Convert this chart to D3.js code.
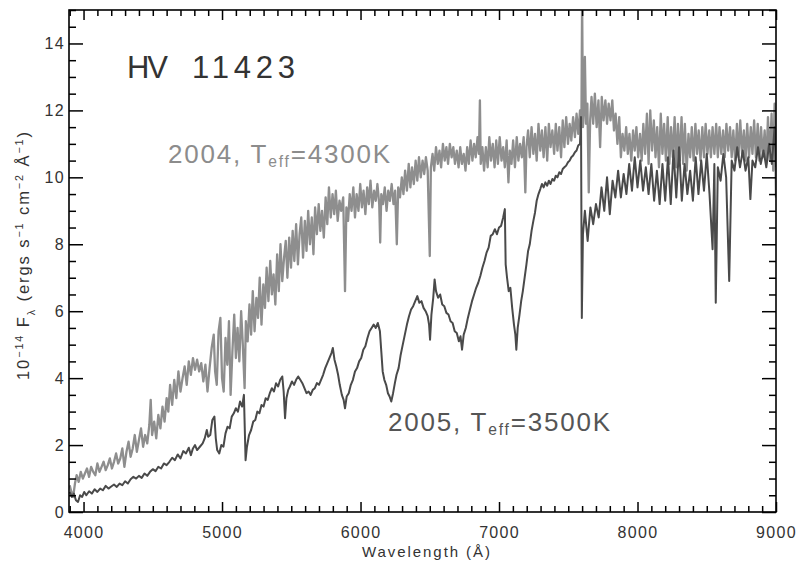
<!DOCTYPE html>
<html>
<head>
<meta charset="utf-8">
<script src="https://cdn.jsdelivr.net/npm/d3@7"></script>
<style>
  html, body { margin: 0; padding: 0; background: #fff; }
  svg { display: block; font-family: "Liberation Sans", Arial, Helvetica, sans-serif; }
</style>
</head>
<body>
<svg id="chart" width="798" height="565"></svg>
<script>
// ---- Data (wavelength in Å, flux in 1e-14 ergs s^-1 cm^-2 Å^-1) ----
const spec2004 = [
[3900,0.8],[3912,0.6],[3925,0.45],[3938,0.85],[3950,1.1],[3965,0.9],[3980,1.2],[3995,1.0],[4010,1.15],[4025,1.3],
[4040,1.05],[4055,1.35],[4070,1.2],[4085,1.1],[4100,1.45],[4115,1.2],[4130,1.35],[4145,1.5],[4160,1.25],[4175,1.4],
[4190,1.6],[4205,1.3],[4220,1.5],[4235,1.75],[4250,1.45],[4265,1.6],[4280,1.9],[4295,1.35],[4310,1.8],[4325,2.1],
[4340,1.65],[4355,1.9],[4370,2.3],[4385,1.8],[4400,2.15],[4415,2.5],[4430,1.95],[4445,2.3],[4460,2.05],[4475,2.6],
[4485,3.35],[4495,2.3],[4510,2.7],[4525,2.2],[4540,2.9],[4555,2.5],[4570,3.15],[4585,2.7],[4600,3.4],[4612,3.0],
[4625,3.8],[4640,3.2],[4655,3.95],[4670,3.4],[4685,4.2],[4700,3.6],[4715,4.0],[4730,4.35],[4745,3.8],[4760,4.5],
[4775,4.1],[4790,4.6],[4805,4.25],[4820,4.55],[4835,4.2],[4850,4.45],[4865,3.9],[4880,4.4],[4895,3.6],[4910,4.3],
[4925,4.9],[4940,5.3],[4950,4.2],[4962,3.8],[4975,5.4],[4988,5.8],[5000,4.0],[5012,3.6],[5025,5.2],[5038,4.4],
[5050,5.7],[5062,3.5],[5075,4.8],[5088,5.9],[5100,4.6],[5112,5.5],[5125,4.5],[5138,6.0],[5150,5.0],[5163,3.7],
[5172,5.7],[5185,5.1],[5198,6.2],[5210,5.3],[5222,6.6],[5235,5.4],[5248,6.4],[5260,5.8],[5272,7.0],[5285,5.6],
[5298,6.8],[5310,6.1],[5322,7.3],[5335,6.3],[5348,7.5],[5360,6.5],[5372,7.1],[5385,6.2],[5398,7.7],[5410,6.6],
[5422,8.0],[5435,6.9],[5448,7.6],[5460,8.1],[5472,7.0],[5485,8.2],[5498,7.3],[5510,8.4],[5522,7.5],[5535,8.6],
[5548,7.4],[5560,8.3],[5572,8.8],[5585,7.6],[5598,8.7],[5610,7.8],[5622,9.0],[5635,8.0],[5648,8.8],[5660,7.7],
[5672,9.1],[5685,8.3],[5698,9.2],[5710,8.4],[5722,9.0],[5735,8.2],[5748,9.4],[5760,8.6],[5772,9.7],[5785,8.8],
[5798,9.5],[5810,8.9],[5822,9.6],[5835,8.7],[5848,9.3],[5860,9.0],[5875,9.4],[5888,6.6],[5898,9.1],[5910,8.7],
[5922,9.5],[5935,9.0],[5948,9.7],[5960,8.8],[5972,9.5],[5985,9.0],[5998,9.8],[6010,9.1],[6022,9.6],[6035,8.9],
[6048,9.7],[6060,9.2],[6072,9.9],[6085,9.1],[6098,9.6],[6110,9.3],[6122,9.8],[6135,9.2],[6142,8.05],[6150,9.5],
[6162,9.2],[6175,9.7],[6188,9.0],[6200,9.6],[6212,9.3],[6225,9.8],[6238,9.2],[6250,9.6],[6262,8.0],[6272,9.7],
[6285,9.4],[6298,10.0],[6310,9.5],[6322,10.2],[6335,9.6],[6348,10.4],[6360,9.7],[6372,10.3],[6385,9.8],[6398,10.5],
[6410,9.9],[6422,10.6],[6435,10.0],[6448,10.5],[6460,10.1],[6472,10.6],[6485,10.2],[6500,7.65],[6508,10.3],[6520,10.7],
[6532,10.2],[6545,10.9],[6558,10.4],[6570,10.8],[6582,10.3],[6595,11.0],[6608,10.5],[6620,10.9],[6632,10.4],[6645,11.0],
[6658,10.6],[6670,10.9],[6682,10.4],[6695,10.8],[6708,10.3],[6720,10.9],[6732,10.4],[6745,10.7],[6758,10.2],[6770,10.9],
[6782,10.4],[6795,11.1],[6808,10.5],[6820,11.0],[6832,10.6],[6845,11.2],[6855,10.7],[6862,12.3],[6868,10.4],[6880,10.9],
[6892,10.2],[6905,10.9],[6918,10.3],[6930,11.2],[6942,10.5],[6955,11.0],[6968,10.3],[6980,11.1],[6992,10.4],[7005,11.2],
[7018,10.5],[7030,10.9],[7042,10.3],[7055,11.1],[7068,9.85],[7078,10.8],[7090,10.4],[7102,11.1],[7115,10.3],[7128,11.2],
[7140,10.5],[7152,11.0],[7165,10.6],[7178,11.2],[7190,9.55],[7198,10.9],[7210,11.4],[7222,10.6],[7235,11.5],[7248,10.7],
[7260,11.3],[7272,10.5],[7285,11.6],[7298,10.8],[7310,11.4],[7322,10.6],[7335,11.5],[7348,10.5],[7360,11.6],[7372,10.9],
[7385,11.4],[7398,10.7],[7410,11.6],[7422,10.8],[7435,11.5],[7448,10.6],[7460,11.7],[7472,10.9],[7485,11.8],[7498,11.0],
[7510,11.6],[7522,11.1],[7535,11.8],[7548,11.2],[7560,11.9],[7572,11.3],[7585,12.0],[7595,11.6],[7600,15.4],[7606,11.5],
[7612,12.0],[7620,13.6],[7628,11.6],[7638,12.2],[7648,9.55],[7658,11.7],[7668,12.4],[7680,11.6],[7692,12.5],[7705,11.5],
[7718,12.3],[7730,10.9],[7742,12.4],[7755,11.7],[7768,12.3],[7780,11.6],[7792,12.2],[7805,11.7],[7818,12.3],[7830,11.4],
[7842,11.9],[7855,11.0],[7868,11.8],[7880,10.6],[7892,11.3],[7905,10.8],[7918,11.5],[7930,10.7],[7942,11.3],[7955,10.5],
[7968,11.4],[7980,10.8],[7992,11.5],[8005,10.6],[8018,11.3],[8030,10.5],[8042,11.6],[8055,10.7],[8068,11.9],[8080,10.4],
[8092,12.0],[8105,10.8],[8118,11.7],[8130,10.6],[8142,11.5],[8155,10.3],[8168,11.9],[8180,10.7],[8192,11.6],[8205,10.5],
[8218,11.8],[8230,10.4],[8242,11.5],[8255,10.6],[8268,11.8],[8280,10.3],[8292,11.6],[8305,10.5],[8318,11.8],[8330,10.4],
[8342,11.6],[8355,10.2],[8368,11.3],[8380,10.6],[8392,11.5],[8405,10.5],[8418,11.6],[8430,10.7],[8442,11.4],[8455,10.5],
[8468,11.5],[8480,10.6],[8492,11.6],[8505,10.7],[8518,11.4],[8530,10.6],[8542,11.5],[8555,10.7],[8568,11.6],[8580,10.6],
[8592,11.5],[8605,10.7],[8618,11.4],[8630,10.6],[8642,11.6],[8655,10.8],[8668,11.5],[8680,10.6],[8692,11.4],[8705,10.5],
[8718,11.6],[8730,10.6],[8742,11.7],[8755,10.7],[8768,11.4],[8780,10.5],[8792,11.6],[8805,10.6],[8818,11.5],[8830,10.7],
[8842,11.7],[8855,10.6],[8868,11.6],[8880,10.5],[8892,11.5],[8905,10.6],[8918,11.4],[8930,10.4],[8942,11.8],[8955,10.5],
[8968,11.9],[8980,10.2],[8990,12.2],[9000,9.4]
];

const spec2005 = [
[3900,0.6],[3915,0.45],[3930,0.55],[3945,0.35],[3960,0.3],[3975,0.5],[3990,0.45],[4005,0.6],[4020,0.5],[4040,0.62],
[4060,0.55],[4080,0.68],[4100,0.6],[4120,0.7],[4140,0.65],[4160,0.78],[4180,0.7],[4200,0.76],[4220,0.82],[4240,0.75],
[4260,0.85],[4280,0.8],[4300,0.92],[4320,0.85],[4340,0.98],[4360,1.05],[4380,1.0],[4400,1.08],[4420,1.02],[4440,1.15],
[4460,1.08],[4480,1.2],[4500,1.28],[4520,1.22],[4540,1.35],[4560,1.3],[4580,1.45],[4600,1.4],[4620,1.5],[4640,1.62],
[4660,1.55],[4680,1.72],[4700,1.6],[4720,1.82],[4740,1.75],[4760,1.92],[4775,1.7],[4790,1.9],[4805,2.0],[4820,1.85],
[4840,1.95],[4860,2.05],[4875,2.2],[4890,2.45],[4900,2.25],[4915,2.3],[4930,2.75],[4945,2.85],[4955,2.2],[4965,1.85],
[4980,1.75],[4995,2.0],[5010,1.95],[5025,2.35],[5040,2.55],[5055,2.5],[5070,2.85],[5085,2.95],[5100,3.1],[5115,3.0],
[5130,3.3],[5145,3.15],[5158,3.5],[5170,1.55],[5180,1.95],[5195,2.3],[5210,2.45],[5225,2.7],[5240,2.75],[5255,3.0],
[5270,2.95],[5285,3.2],[5300,3.15],[5315,3.4],[5330,3.35],[5345,3.55],[5360,3.7],[5375,3.6],[5390,3.85],[5405,3.75],
[5420,3.95],[5435,4.05],[5445,3.6],[5455,2.8],[5465,3.4],[5478,3.65],[5490,3.75],[5505,3.9],[5520,3.8],[5535,3.95],
[5550,4.05],[5565,3.95],[5580,3.85],[5595,3.7],[5610,3.55],[5625,3.6],[5640,3.5],[5655,3.65],[5670,3.7],[5685,3.85],
[5700,3.8],[5715,3.95],[5730,4.1],[5745,4.3],[5760,4.45],[5775,4.6],[5790,4.75],[5800,4.9],[5812,4.55],[5825,4.35],
[5838,4.1],[5850,3.8],[5865,3.5],[5878,3.35],[5888,3.1],[5900,3.45],[5915,3.55],[5930,3.8],[5945,3.95],[5960,4.2],
[5975,4.3],[5990,4.5],[6005,4.6],[6020,4.85],[6035,4.95],[6050,5.2],[6065,5.4],[6080,5.5],[6095,5.6],[6110,5.5],
[6125,5.65],[6140,5.4],[6150,4.8],[6160,4.2],[6172,3.95],[6185,3.8],[6198,3.55],[6210,3.45],[6222,3.3],[6235,3.55],
[6248,3.85],[6260,4.1],[6275,4.3],[6290,4.7],[6305,5.0],[6320,5.3],[6335,5.6],[6350,5.85],[6365,6.05],[6380,6.15],
[6395,6.3],[6410,6.45],[6425,6.25],[6440,6.3],[6455,6.1],[6470,6.0],[6485,5.85],[6495,5.6],[6502,5.15],[6512,5.9],
[6525,6.4],[6535,6.95],[6545,6.6],[6560,6.4],[6575,6.5],[6590,6.2],[6605,6.15],[6620,5.95],[6635,5.9],[6650,5.7],
[6665,5.65],[6680,5.4],[6695,5.35],[6710,5.1],[6722,5.25],[6733,4.85],[6745,5.3],[6760,5.5],[6775,5.8],[6790,6.05],
[6805,6.3],[6820,6.5],[6835,6.7],[6850,6.85],[6865,7.05],[6880,7.3],[6895,7.5],[6910,7.75],[6925,7.9],[6940,8.25],
[6955,8.3],[6970,8.45],[6985,8.3],[7000,8.5],[7015,8.55],[7030,8.8],[7042,9.05],[7048,7.4],[7058,7.0],[7070,6.6],
[7082,6.7],[7095,6.1],[7108,5.6],[7118,5.3],[7125,4.85],[7135,5.5],[7148,5.9],[7160,6.3],[7172,6.6],[7185,7.0],
[7198,7.4],[7210,7.8],[7222,8.0],[7235,8.4],[7248,8.7],[7260,8.95],[7272,9.3],[7285,9.5],[7298,9.65],[7310,9.8],
[7322,9.7],[7335,9.85],[7348,9.75],[7360,9.9],[7372,9.8],[7385,9.95],[7398,9.9],[7410,10.05],[7422,10.0],[7435,10.15],
[7448,10.1],[7460,10.25],[7472,10.3],[7485,10.35],[7498,10.45],[7510,10.5],[7522,10.6],[7535,10.65],[7548,10.75],[7560,10.8],
[7572,10.95],[7585,11.0],[7592,11.8],[7598,5.8],[7606,8.3],[7620,9.0],[7640,8.1],[7660,9.1],[7680,8.6],[7700,9.2],
[7720,8.8],[7740,9.7],[7760,9.0],[7780,10.0],[7800,8.9],[7820,9.9],[7840,9.4],[7860,10.2],[7880,9.4],[7900,10.1],
[7920,9.5],[7940,10.4],[7960,9.6],[7980,10.6],[8000,9.7],[8020,10.5],[8040,9.6],[8060,10.3],[8080,9.5],[8100,10.4],
[8120,9.3],[8140,10.2],[8160,9.2],[8180,10.4],[8200,9.3],[8220,10.6],[8240,9.2],[8260,10.8],[8280,9.4],[8300,10.9],
[8320,9.3],[8340,10.4],[8360,9.5],[8380,10.2],[8400,9.3],[8420,10.6],[8440,9.5],[8460,10.5],[8480,9.6],[8500,10.7],
[8520,9.5],[8542,7.85],[8555,10.4],[8565,6.25],[8580,10.3],[8600,9.9],[8620,10.7],[8640,10.0],[8662,6.9],[8680,10.5],
[8700,10.2],[8720,10.9],[8740,10.3],[8760,10.8],[8780,10.2],[8800,10.6],[8815,9.35],[8830,10.5],[8850,10.3],[8870,10.9],
[8890,10.4],[8910,10.8],[8930,10.3],[8950,11.0],[8970,10.4],[8990,11.5],[9000,10.3]
];

const xMajorTicks = [4000, 5000, 6000, 7000, 8000, 9000];
const yMajorTicks = [0, 2, 4, 6, 8, 10, 12, 14];
const xDomain = [3895, 9000];
const yDomain = [0, 15];

// ---- Layout ----
const L = 69, R = 776, T = 10, B = 512;
const svg = d3.select("#chart");
const x = d3.scaleLinear().domain(xDomain).range([L, R]);
const y = d3.scaleLinear().domain(yDomain).range([B, T]);

const xMinor = d3.range(3900, 9001, 100).filter(v => !xMajorTicks.includes(v));
const yMinor = d3.range(0.5, 15.01, 0.5).filter(v => !yMajorTicks.includes(v));

svg.append("defs").append("clipPath").attr("id", "clip")
  .append("rect").attr("x", L).attr("y", T).attr("width", R - L).attr("height", B - T);

const line = d3.line().x(d => x(d[0])).y(d => y(d[1]));
const g = svg.append("g").attr("clip-path", "url(#clip)");
g.append("path").datum(spec2004).attr("d", line)
  .attr("fill", "none").attr("stroke", "#8e8e8e").attr("stroke-width", 2.3).attr("stroke-linejoin", "round");
g.append("path").datum(spec2005).attr("d", line)
  .attr("fill", "none").attr("stroke", "#4a4a4a").attr("stroke-width", 2).attr("stroke-linejoin", "round");

function styleAxis(sel) {
  sel.select(".domain").remove();
  sel.selectAll(".tick line").attr("stroke", "#000").attr("stroke-width", 1.5);
  sel.selectAll(".tick text").attr("fill", "#333").attr("font-size", 16).attr("letter-spacing", "1.3px")
     .attr("font-family", "'Liberation Sans', Arial, sans-serif");
}
svg.append("g").attr("transform", `translate(0,${B})`)
  .call(d3.axisBottom(x).tickValues(xMajorTicks).tickSize(-10).tickPadding(15).tickFormat(d3.format("d")))
  .call(styleAxis);
svg.append("g").attr("transform", `translate(0,${B})`)
  .call(d3.axisBottom(x).tickValues(xMinor).tickSize(-6).tickFormat(""))
  .call(styleAxis);
svg.append("g").attr("transform", `translate(0,${T})`)
  .call(d3.axisTop(x).tickValues(xMajorTicks).tickSize(-10).tickFormat(""))
  .call(styleAxis);
svg.append("g").attr("transform", `translate(0,${T})`)
  .call(d3.axisTop(x).tickValues(xMinor).tickSize(-6).tickFormat(""))
  .call(styleAxis);
svg.append("g").attr("transform", `translate(${L},0)`)
  .call(d3.axisLeft(y).tickValues(yMajorTicks).tickSize(-14).tickPadding(4).tickFormat(d3.format("d")))
  .call(styleAxis);
svg.append("g").attr("transform", `translate(${L},0)`)
  .call(d3.axisLeft(y).tickValues(yMinor).tickSize(-7).tickFormat(""))
  .call(styleAxis);
svg.append("g").attr("transform", `translate(${R},0)`)
  .call(d3.axisRight(y).tickValues(yMajorTicks).tickSize(-14).tickFormat(""))
  .call(styleAxis);
svg.append("g").attr("transform", `translate(${R},0)`)
  .call(d3.axisRight(y).tickValues(yMinor).tickSize(-7).tickFormat(""))
  .call(styleAxis);

svg.append("rect").attr("x", L).attr("y", T).attr("width", R - L).attr("height", B - T)
  .attr("fill", "none").attr("stroke", "#000").attr("stroke-width", 1.6);

function rich(parent, segs, attrs) {
  const t = parent.append("text");
  Object.entries(attrs).forEach(([k, v]) => t.attr(k, v));
  segs.forEach(s => {
    const ts = t.append("tspan").text(s.t);
    if (s.sup) ts.attr("baseline-shift", "super").attr("font-size", s.fs || "65%");
    if (s.sub) ts.attr("baseline-shift", s.shift || "sub").attr("font-size", s.fs || "65%");
  });
  return t;
}

svg.append("text").attr("x", 426).attr("y", 557).attr("text-anchor", "middle")
  .attr("font-size", 15).attr("fill", "#333")
  .attr("textLength", 128).attr("lengthAdjust", "spacing").text("Wavelength (Å)");

rich(svg, [
  {t: "10"}, {t: "−14", sup: true}, {t: " F"}, {t: "λ", sub: true},
  {t: " (ergs s"}, {t: "−1", sup: true}, {t: " cm"}, {t: "−2", sup: true},
  {t: " Å"}, {t: "−1", sup: true}, {t: ")"}
], {transform: "translate(29,256) rotate(-90)", "text-anchor": "middle", "font-size": 16.5,
    fill: "#333", textLength: 248, lengthAdjust: "spacing"});

svg.append("text").attr("x", 127).attr("y", 78).attr("font-size", 31).attr("fill", "#333")
  .attr("textLength", 41).attr("lengthAdjust", "spacing").text("HV");
svg.append("text").attr("x", 192).attr("y", 78).attr("font-size", 31).attr("fill", "#333")
  .attr("textLength", 103).attr("lengthAdjust", "spacing").text("11423");

rich(svg, [{t: "2004, T"}, {t: "eff", sub: true, fs: "60%", shift: "-4"}, {t: "=4300K"}],
  {x: 168, y: 163, "font-size": 26, fill: "#8c8c8c", textLength: 222, lengthAdjust: "spacing"});
rich(svg, [{t: "2005, T"}, {t: "eff", sub: true, fs: "60%", shift: "-4"}, {t: "=3500K"}],
  {x: 388, y: 431, "font-size": 26, fill: "#555", textLength: 222, lengthAdjust: "spacing"});
</script>
</body>
</html>
